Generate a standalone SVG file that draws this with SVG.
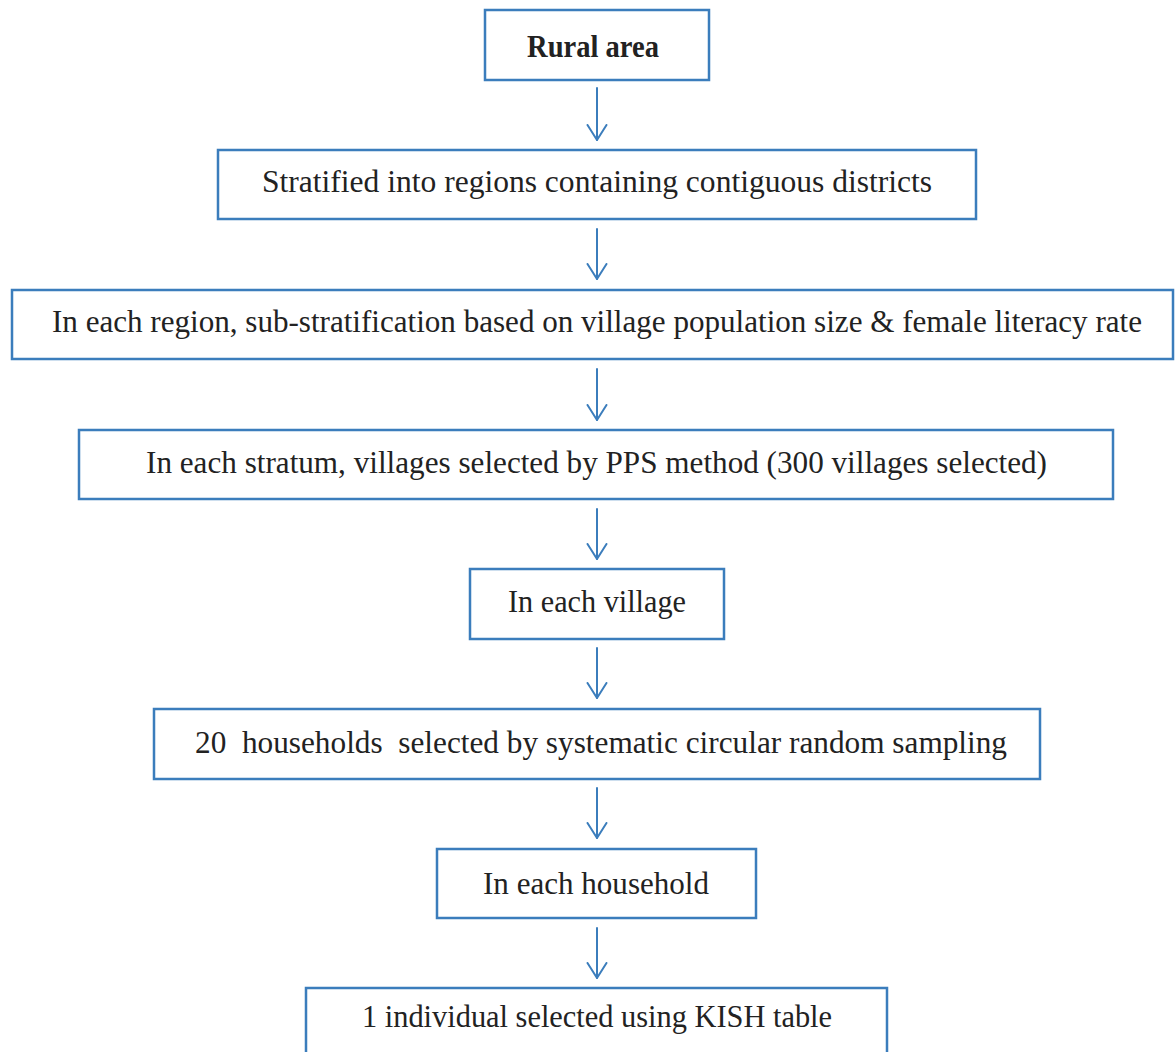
<svg xmlns="http://www.w3.org/2000/svg" width="1176" height="1052" viewBox="0 0 1176 1052">
<defs>
<style>
.box{fill:#ffffff;stroke:#3b7dbc;stroke-width:2.5}
.t{font-family:"Liberation Serif","Times New Roman",serif;font-size:31px;fill:#222222}
.tb{font-family:"Liberation Serif","Times New Roman",serif;font-size:32px;font-weight:bold;fill:#222222}
.arr{fill:none;stroke:#3b7dbc;stroke-width:2;stroke-linecap:round;stroke-linejoin:round}
</style>
<marker id="head" viewBox="0 0 17 22" refX="16" refY="11" markerWidth="17" markerHeight="22" markerUnits="userSpaceOnUse" orient="auto">
<path d="M1,1.5 L16,11 L1,20.5" fill="none" stroke="#3b7dbc" stroke-width="2" stroke-linecap="round" stroke-linejoin="round"/>
</marker>
</defs>
<rect width="1176" height="1052" fill="#ffffff"/>
<g id="connectors">
<line class="arr" x1="597" y1="88" x2="597" y2="140" marker-end="url(#head)"/>
<line class="arr" x1="597" y1="229" x2="597" y2="279" marker-end="url(#head)"/>
<line class="arr" x1="597" y1="369" x2="597" y2="420" marker-end="url(#head)"/>
<line class="arr" x1="597" y1="509" x2="597" y2="559" marker-end="url(#head)"/>
<line class="arr" x1="597" y1="648" x2="597" y2="698" marker-end="url(#head)"/>
<line class="arr" x1="597" y1="788" x2="597" y2="838" marker-end="url(#head)"/>
<line class="arr" x1="597" y1="928" x2="597" y2="978" marker-end="url(#head)"/>
</g>
<g id="n1">
<rect class="box" x="485" y="10" width="224" height="70"/>
<text class="tb" x="527" y="57" textLength="132" lengthAdjust="spacingAndGlyphs">Rural area</text>
</g>
<g id="n2">
<rect class="box" x="218" y="150" width="758" height="69"/>
<text class="t" x="262" y="192" textLength="670" lengthAdjust="spacingAndGlyphs">Stratified into regions containing contiguous districts</text>
</g>
<g id="n3">
<rect class="box" x="12" y="290" width="1161" height="69"/>
<text class="t" x="52" y="332" textLength="1090" lengthAdjust="spacingAndGlyphs">In each region, sub-stratification based on village population size &amp; female literacy rate</text>
</g>
<g id="n4">
<rect class="box" x="79" y="430" width="1034" height="69"/>
<text class="t" x="146" y="473" textLength="901" lengthAdjust="spacingAndGlyphs">In each stratum, villages selected by PPS method (300 villages selected)</text>
</g>
<g id="n5">
<rect class="box" x="470" y="569" width="254" height="70"/>
<text class="t" x="508" y="612" textLength="178" lengthAdjust="spacingAndGlyphs">In each village</text>
</g>
<g id="n6">
<rect class="box" x="154" y="709" width="886" height="70"/>
<text class="t" x="195" y="753" textLength="812" lengthAdjust="spacingAndGlyphs" xml:space="preserve">20  households  selected by systematic circular random sampling</text>
</g>
<g id="n7">
<rect class="box" x="437" y="849" width="319" height="69"/>
<text class="t" x="483" y="894" textLength="226" lengthAdjust="spacingAndGlyphs">In each household</text>
</g>
<g id="n8">
<rect class="box" x="306" y="988" width="581" height="80"/>
<text class="t" x="362" y="1027" textLength="470" lengthAdjust="spacingAndGlyphs">1 individual selected using KISH table</text>
</g>
</svg>
